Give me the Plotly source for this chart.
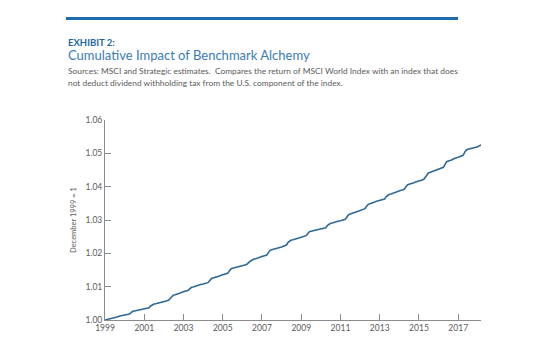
import plotly.graph_objects as go
import pandas as pd

# Monthly index level (December 1999 = 1), one row of 12 months per year
levels_by_year = {
    1999: [1.0000, 1.0001, 1.0002, 1.0003, 1.0005, 1.0007, 1.0008, 1.0009, 1.0010, 1.0012, 1.0013, 1.0014],
    2000: [1.0015, 1.0016, 1.0017, 1.0018, 1.0022, 1.0026, 1.0027, 1.0028, 1.0029, 1.0030, 1.0031, 1.0032],
    2001: [1.0033, 1.0034, 1.0035, 1.0037, 1.0042, 1.0046, 1.0048, 1.0049, 1.0050, 1.0052, 1.0053, 1.0055],
    2002: [1.0056, 1.0057, 1.0058, 1.0060, 1.0066, 1.0072, 1.0075, 1.0076, 1.0077, 1.0079, 1.0081, 1.0083],
    2003: [1.0085, 1.0086, 1.0087, 1.0089, 1.0094, 1.0098, 1.0099, 1.0101, 1.0102, 1.0104, 1.0105, 1.0107],
    2004: [1.0108, 1.0109, 1.0110, 1.0112, 1.0118, 1.0124, 1.0126, 1.0127, 1.0129, 1.0131, 1.0132, 1.0134],
    2005: [1.0135, 1.0136, 1.0138, 1.0140, 1.0146, 1.0153, 1.0155, 1.0156, 1.0158, 1.0160, 1.0161, 1.0162],
    2006: [1.0163, 1.0164, 1.0166, 1.0168, 1.0173, 1.0178, 1.0180, 1.0182, 1.0183, 1.0185, 1.0187, 1.0189],
    2007: [1.0190, 1.0191, 1.0193, 1.0195, 1.0202, 1.0209, 1.0211, 1.0212, 1.0213, 1.0215, 1.0217, 1.0216],
    2008: [1.0219, 1.0221, 1.0223, 1.0225, 1.0233, 1.0238, 1.0240, 1.0241, 1.0243, 1.0245, 1.0246, 1.0247],
    2009: [1.0248, 1.0249, 1.0251, 1.0253, 1.0259, 1.0265, 1.0266, 1.0267, 1.0269, 1.0270, 1.0271, 1.0272],
    2010: [1.0273, 1.0274, 1.0275, 1.0277, 1.0283, 1.0288, 1.0290, 1.0291, 1.0293, 1.0295, 1.0296, 1.0297],
    2011: [1.0298, 1.0299, 1.0300, 1.0302, 1.0309, 1.0316, 1.0318, 1.0319, 1.0321, 1.0323, 1.0325, 1.0327],
    2012: [1.0329, 1.0330, 1.0332, 1.0334, 1.0341, 1.0347, 1.0349, 1.0350, 1.0352, 1.0354, 1.0356, 1.0357],
    2013: [1.0358, 1.0359, 1.0361, 1.0363, 1.0370, 1.0375, 1.0377, 1.0378, 1.0380, 1.0382, 1.0385, 1.0387],
    2014: [1.0388, 1.0389, 1.0390, 1.0392, 1.0399, 1.0405, 1.0407, 1.0408, 1.0410, 1.0412, 1.0414, 1.0415],
    2015: [1.0416, 1.0418, 1.0420, 1.0422, 1.0430, 1.0438, 1.0442, 1.0443, 1.0445, 1.0447, 1.0449, 1.0451],
    2016: [1.0452, 1.0454, 1.0456, 1.0458, 1.0467, 1.0475, 1.0477, 1.0478, 1.0480, 1.0483, 1.0486, 1.0487],
    2017: [1.0488, 1.0490, 1.0492, 1.0494, 1.0503, 1.0510, 1.0512, 1.0513, 1.0515, 1.0516, 1.0518, 1.0519],
    2018: [1.0520, 1.0523, 1.0525],
}

x_tick_years = [1999, 2001, 2003, 2005, 2007, 2009, 2011, 2013, 2015, 2017]
y_tick_values = [1.00, 1.01, 1.02, 1.03, 1.04, 1.05, 1.06]

dates, values = [], []
for year, months in levels_by_year.items():
    for m, v in enumerate(months, start=1):
        dates.append(pd.Timestamp(year=year, month=m, day=1))
        values.append(v)

FONT = "Lato"
AXIS_GREY = "#8c8c8c"
TEXT_GREY = "#5a5a5a"

fig = go.Figure(
    go.Scatter(
        x=dates, y=values, mode="lines",
        line=dict(color="#2e6896", width=1.6),
        hoverinfo="skip",
    )
)

L, R, T, B = 105, 69, 120, 26
W, H = 550, 346
pw, ph = W - L - R, H - T - B


def px(xp):
    return (xp - L) / pw


def py(yp):
    return (H - B - yp) / ph


fig.update_layout(
    width=W, height=H,
    margin=dict(l=L, r=R, t=T, b=B),
    paper_bgcolor="white", plot_bgcolor="white",
    showlegend=False,
    font=dict(family=FONT, color=TEXT_GREY, size=8),
    xaxis=dict(
        type="date",
        range=[dates[0], dates[-1]],
        tickvals=[pd.Timestamp(year=y, month=1, day=1) for y in x_tick_years],
        ticktext=[str(y) for y in x_tick_years],
        ticks="inside", ticklen=6, tickcolor=AXIS_GREY, tickwidth=1,
        showline=True, linecolor=AXIS_GREY, linewidth=1,
        showgrid=False, zeroline=False,
        tickfont=dict(family=FONT, size=8.5, color=TEXT_GREY),
    ),
    yaxis=dict(
        range=[1.00, 1.06],
        tickvals=y_tick_values,
        tickformat=".2f",
        ticks="inside", ticklen=6, tickcolor=AXIS_GREY, tickwidth=1,
        showline=True, linecolor=AXIS_GREY, linewidth=1,
        showgrid=False, zeroline=False,
        tickfont=dict(family=FONT, size=8.5, color=TEXT_GREY),
    ),
)

# Rotated y-axis caption
fig.add_annotation(
    text="December 1999 = 1", xref="paper", yref="paper",
    x=px(73), y=0.5, xanchor="center", yanchor="middle", textangle=-90,
    showarrow=False, font=dict(family=FONT, size=7.5, color=TEXT_GREY),
)

# Blue rule across the top of the exhibit
fig.add_shape(
    type="rect", xref="paper", yref="paper",
    x0=px(66), x1=px(458), y0=py(20), y1=py(17),
    fillcolor="#1f6cb0", line=dict(width=0), layer="above",
)

header = [
    ("<b>EXHIBIT 2:</b>", 42, 9.5, "#2366a3"),
    ("Cumulative Impact of Benchmark Alchemy", 54.5, 13, "#3a7bb6"),
    ("Sources: MSCI and Strategic estimates.  Compares the return of MSCI World Index with an index that does", 71, 8.4, TEXT_GREY),
    ("not deduct dividend withholding tax from the U.S. component of the index.", 83, 8.4, TEXT_GREY),
]
for text, yc, size, color in header:
    fig.add_annotation(
        text=text, xref="paper", yref="paper",
        x=px(66), y=py(yc), xanchor="left", yanchor="middle",
        showarrow=False, font=dict(family=FONT, size=size, color=color),
    )

fig.write_html("out.html")
